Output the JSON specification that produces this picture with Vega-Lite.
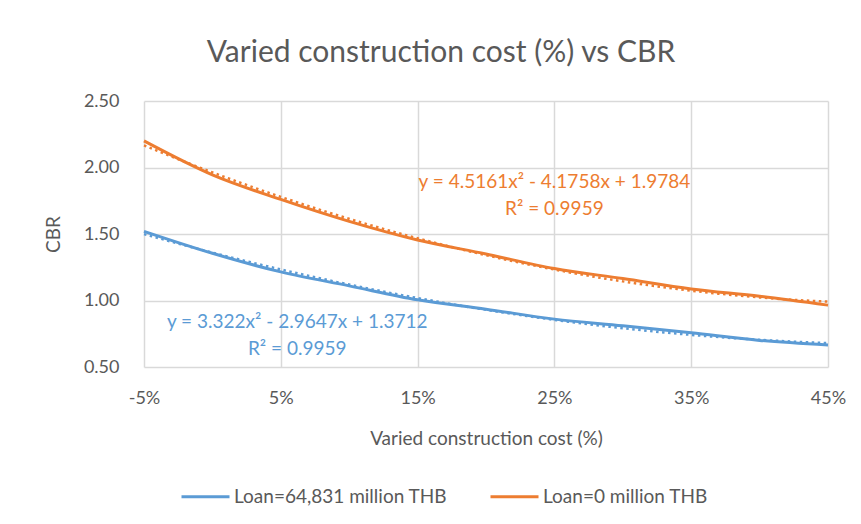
{
  "$schema": "https://vega.github.io/schema/vega-lite/v6.json",
  "width": 684,
  "height": 266,
  "autosize": {"type": "none"},
  "padding": {"left": 144, "top": 101, "right": 33, "bottom": 157},
  "background": "white",
  "title": {
    "text": "Varied construction cost (%) vs CBR",
    "font": "Lato",
    "fontSize": 30,
    "fontWeight": "normal",
    "color": "#595959",
    "anchor": "middle",
    "dx": -45,
    "offset": 24
  },
  "config": {
    "view": {"stroke": null},
    "font": "Lato",
    "axis": {
      "labelFont": "Lato",
      "titleFont": "Lato",
      "labelColor": "#595959",
      "titleColor": "#595959",
      "labelFontSize": 18,
      "titleFontSize": 19,
      "titleFontWeight": "normal",
      "gridColor": "#d9d9d9",
      "gridWidth": 1.5,
      "domain": false,
      "ticks": false
    }
  },
  "datasets": {
    "cbr": [
      {"x": -0.05, "cbr": 1.52, "series": "Loan=64,831 million THB"},
      {"x": 0.0, "cbr": 1.355, "series": "Loan=64,831 million THB"},
      {"x": 0.05, "cbr": 1.215, "series": "Loan=64,831 million THB"},
      {"x": 0.10, "cbr": 1.11, "series": "Loan=64,831 million THB"},
      {"x": 0.15, "cbr": 1.005, "series": "Loan=64,831 million THB"},
      {"x": 0.20, "cbr": 0.935, "series": "Loan=64,831 million THB"},
      {"x": 0.25, "cbr": 0.86, "series": "Loan=64,831 million THB"},
      {"x": 0.30, "cbr": 0.81, "series": "Loan=64,831 million THB"},
      {"x": 0.35, "cbr": 0.757, "series": "Loan=64,831 million THB"},
      {"x": 0.40, "cbr": 0.70, "series": "Loan=64,831 million THB"},
      {"x": 0.45, "cbr": 0.665, "series": "Loan=64,831 million THB"},
      {"x": -0.05, "cbr": 2.20, "series": "Loan=0 million THB"},
      {"x": 0.0, "cbr": 1.945, "series": "Loan=0 million THB"},
      {"x": 0.05, "cbr": 1.76, "series": "Loan=0 million THB"},
      {"x": 0.10, "cbr": 1.595, "series": "Loan=0 million THB"},
      {"x": 0.15, "cbr": 1.455, "series": "Loan=0 million THB"},
      {"x": 0.20, "cbr": 1.35, "series": "Loan=0 million THB"},
      {"x": 0.25, "cbr": 1.24, "series": "Loan=0 million THB"},
      {"x": 0.30, "cbr": 1.165, "series": "Loan=0 million THB"},
      {"x": 0.35, "cbr": 1.087, "series": "Loan=0 million THB"},
      {"x": 0.40, "cbr": 1.032, "series": "Loan=0 million THB"},
      {"x": 0.45, "cbr": 0.965, "series": "Loan=0 million THB"}
    ],
    "notes": [
      {"x": 0.25, "cbr": 1.89, "series": "Loan=0 million THB", "eq": "y = 4.5161x\u00b2 - 4.1758x + 1.9784", "r2": "R\u00b2 = 0.9959"},
      {"x": 0.062, "cbr": 0.838, "series": "Loan=64,831 million THB", "eq": "y = 3.322x\u00b2 - 2.9647x + 1.3712", "r2": "R\u00b2 = 0.9959"}
    ]
  },
  "layer": [
    {
      "data": {"name": "cbr"},
      "mark": {"type": "line", "strokeWidth": 3, "interpolate": "monotone"},
      "encoding": {
        "x": {
          "field": "x",
          "type": "quantitative",
          "scale": {"domain": [-0.05, 0.45], "nice": false, "zero": false},
          "axis": {
            "title": "Varied construction cost (%)",
            "values": [-0.05, 0.05, 0.15, 0.25, 0.35, 0.45],
            "labelExpr": "replace(format(datum.value, '.0%'), '\u2212', '-')",
            "labelFlush": false,
            "labelPadding": 22,
            "titlePadding": 22
          }
        },
        "y": {
          "field": "cbr",
          "type": "quantitative",
          "scale": {"domain": [0.5, 2.5], "nice": false, "zero": false},
          "axis": {
            "title": "CBR",
            "values": [0.5, 1.0, 1.5, 2.0, 2.5],
            "format": ".2f",
            "labelPadding": 25,
            "titlePadding": 20
          }
        },
        "color": {
          "field": "series",
          "type": "nominal",
          "scale": {
            "domain": ["Loan=64,831 million THB", "Loan=0 million THB"],
            "range": ["#5B9BD5", "#ED7D31"]
          },
          "legend": {
            "title": null,
            "orient": "none",
            "legendX": 36,
            "legendY": 370,
            "direction": "horizontal",
            "symbolType": "stroke",
            "symbolSize": 2304,
            "symbolStrokeWidth": 3,
            "labelFont": "Lato",
            "labelFontSize": 19,
            "labelColor": "#595959",
            "labelLimit": 400,
            "labelOffset": 3,
            "columnPadding": 36
          }
        }
      }
    },
    {
      "data": {"name": "cbr"},
      "transform": [
        {"regression": "cbr", "on": "x", "groupby": ["series"], "method": "poly", "order": 2, "extent": [-0.05, 0.45]}
      ],
      "mark": {"type": "line", "strokeWidth": 2.5, "strokeDash": [2.5, 3.5]},
      "encoding": {
        "x": {"field": "x", "type": "quantitative"},
        "y": {"field": "cbr", "type": "quantitative"},
        "color": {"field": "series", "type": "nominal", "legend": null}
      }
    },
    {
      "data": {"name": "notes"},
      "mark": {"type": "text", "font": "Lato", "fontSize": 19, "align": "center", "baseline": "middle", "lineHeight": 27},
      "encoding": {
        "x": {"field": "x", "type": "quantitative"},
        "y": {"field": "cbr", "type": "quantitative"},
        "text": {"field": "eq"},
        "color": {"field": "series", "type": "nominal", "legend": null}
      }
    },
    {
      "data": {"name": "notes"},
      "mark": {"type": "text", "font": "Lato", "fontSize": 19, "align": "center", "baseline": "middle", "dy": 27},
      "encoding": {
        "x": {"field": "x", "type": "quantitative"},
        "y": {"field": "cbr", "type": "quantitative"},
        "text": {"field": "r2"},
        "color": {"field": "series", "type": "nominal", "legend": null}
      }
    }
  ]
}
